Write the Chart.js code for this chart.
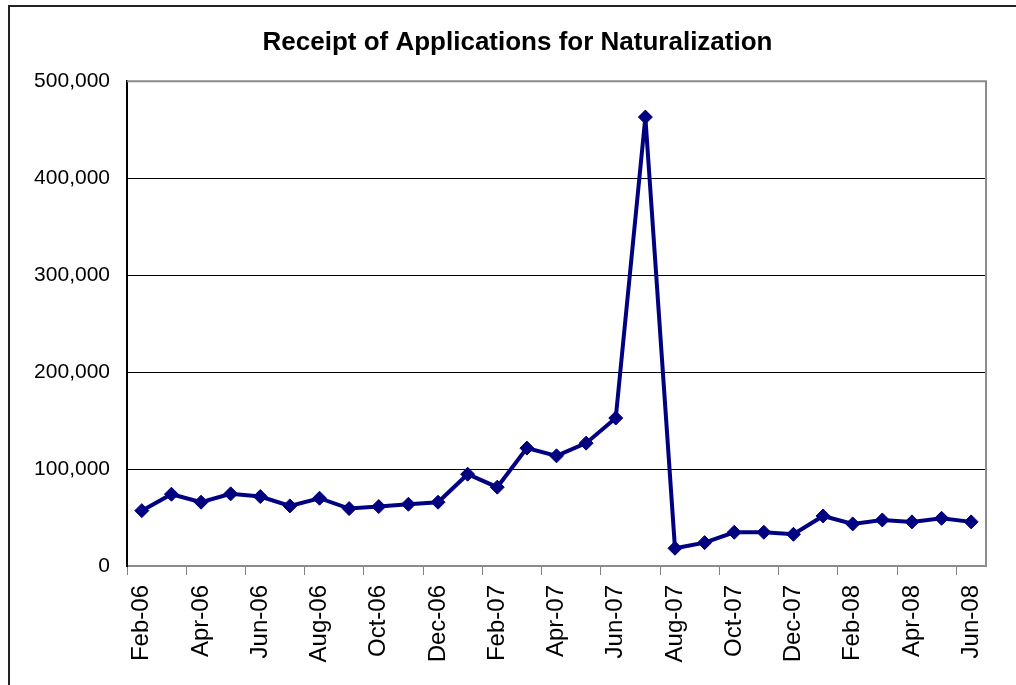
<!DOCTYPE html>
<html>
<head>
<meta charset="utf-8">
<script src="https://cdn.jsdelivr.net/npm/chart.js@4.4.1/dist/chart.umd.min.js"></script>
<style>
  body { margin: 0; background: #fff; }
  #wrap { width: 1016px; height: 685px; }
</style>
</head>
<body>
<div id="wrap"><canvas id="chart0" width="1016" height="685"></canvas></div>
<script>
// monthly receipts, Feb-06 .. Jun-08
const months = ['Feb-06', 'Mar-06', 'Apr-06', 'May-06', 'Jun-06', 'Jul-06', 'Aug-06', 'Sep-06',
  'Oct-06', 'Nov-06', 'Dec-06', 'Jan-07', 'Feb-07', 'Mar-07', 'Apr-07', 'May-07', 'Jun-07',
  'Jul-07', 'Aug-07', 'Sep-07', 'Oct-07', 'Nov-07', 'Dec-07', 'Jan-08', 'Feb-08', 'Mar-08',
  'Apr-08', 'May-08', 'Jun-08'];
const receipts = [57100, 74000, 65800, 74400, 71600, 62000, 69900, 59200, 61300, 63700, 65800,
  94700, 81300, 121600, 113600, 126700, 152600, 463000, 18300, 24100, 34800, 34800, 32700,
  51600, 43400, 47500, 45500, 49200, 45500];
const yMin = 0;
const yMax = 500000;
const yStep = 100000;

const fontFam = "'Liberation Sans', Arial, sans-serif";

// outer frame + gray top/right edge of the plot area
const frame = {
  id: 'frame',
  beforeDraw(chart) {
    const c = chart.ctx;
    c.save();
    c.fillStyle = '#fff';
    c.fillRect(0, 0, chart.width, chart.height);
    c.strokeStyle = '#222';
    c.lineWidth = 2;
    c.strokeRect(9, 6, 1200, 1000);
    c.restore();
  },
  beforeDatasetsDraw(chart) {
    const a = chart.chartArea;
    const c = chart.ctx;
    c.save();
    c.strokeStyle = '#8c8c8c';
    c.lineWidth = 2;
    c.beginPath();
    c.moveTo(a.left, a.top);
    c.lineTo(a.right, a.top);
    c.lineTo(a.right, a.bottom);
    c.stroke();
    c.restore();
  }
};

const ctx = document.getElementById('chart0').getContext('2d');
window.myChart = new Chart(ctx, {
  type: 'line',
  data: {
    labels: months,
    datasets: [{
      label: 'Receipts',
      data: receipts,
      borderColor: '#000080',
      backgroundColor: '#000080',
      borderWidth: 4,
      tension: 0,
      pointStyle: 'rectRot',
      pointRadius: 7,
      pointBorderWidth: 1,
      pointBackgroundColor: '#000080',
      pointBorderColor: '#000080'
    }]
  },
  options: {
    responsive: false,
    animation: false,
    layout: { padding: { top: 8, left: 19, right: 0, bottom: 0 } },
    plugins: {
      legend: { display: false },
      tooltip: { enabled: false },
      title: {
        display: true,
        text: 'Receipt of Applications for Naturalization',
        color: '#000',
        font: { family: fontFam, size: 26, weight: 'bold' },
        padding: { top: 19, bottom: 23 }
      }
    },
    scales: {
      x: {
        offset: true,
        grid: {
          offset: true,
          drawOnChartArea: false,
          tickLength: 9,
          lineWidth: 1,
          color: c => c.index % 2 === 0 ? '#808080' : 'rgba(0,0,0,0)'
        },
        border: { color: '#8c8c8c', width: 2 },
        ticks: {
          autoSkip: false,
          maxRotation: 90,
          minRotation: 90,
          padding: 10,
          color: '#000',
          font: { family: fontFam, size: 24 },
          callback: (v, i) => i % 2 === 0 ? months[i] : ''
        },
        afterFit: s => { s.height = 119; }
      },
      y: {
        min: yMin,
        max: yMax,
        grid: {
          drawTicks: false,
          lineWidth: 1,
          color: c => (c.tick && (c.tick.value === yMax || c.tick.value === yMin)) ? 'rgba(0,0,0,0)' : '#000'
        },
        border: { color: '#000', width: 2 },
        ticks: {
          stepSize: yStep,
          padding: 17,
          color: '#000',
          font: { family: fontFam, size: 21 },
          callback: v => v.toLocaleString('en-US')
        },
        afterFit: s => { s.width = 108; }
      },
      yPad: {
        position: 'right',
        display: true,
        grid: { display: false },
        border: { display: false },
        ticks: { display: false },
        afterFit: s => { s.width = 30; }
      }
    }
  },
  plugins: [frame]
});
</script>
</body>
</html>
